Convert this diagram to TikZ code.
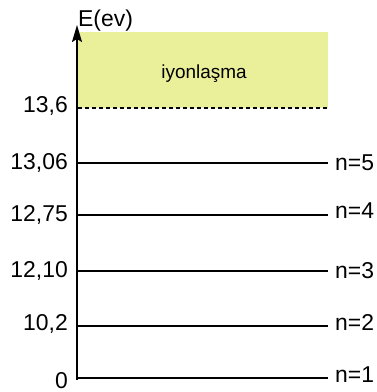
\documentclass[tikz,border=0pt]{standalone}
\usepackage{fontspec}
\setmainfont{Liberation Sans}
\usetikzlibrary{arrows.meta}
\definecolor{ionyellow}{RGB}{234,240,153}
\begin{document}
\begin{tikzpicture}[x=1bp,y=-1bp,
  level/.style={line width=1.3bp},
  lab/.style={font=\fontsize{23}{25}\selectfont, inner sep=0pt},
  ylab/.style={lab, anchor=east},
  nlab/.style={lab, anchor=west}]
\useasboundingbox (0,0) rectangle (377,392);
\fill[ionyellow] (78,32) rectangle (328,108);
\node[font=\fontsize{19}{21}\selectfont, inner sep=0pt] (ion) at (204,74) {iyonlaşma};
\draw[line width=1.3bp, dash pattern=on 4bp off 3bp] (78,108) -- (328,108);
\coordinate (ax0) at (77,380);
\coordinate (ax1) at (77,25);
\draw[line width=1.6bp, -{Stealth[length=17bp,width=10bp,inset=3bp]}] (ax0) -- (ax1);
\node[lab, anchor=south west] (E) at (78,31) {E(ev)};
% levels
\coordinate (l5a) at (77,163); \coordinate (l5b) at (328,163);
\coordinate (l4a) at (77,215); \coordinate (l4b) at (328,215);
\coordinate (l3a) at (77,271); \coordinate (l3b) at (328,271);
\coordinate (l2a) at (77,326); \coordinate (l2b) at (328,326);
\coordinate (l1a) at (77,378); \coordinate (l1b) at (328,378);
\foreach \n in {1,...,5} {\draw[level] (l\n a) -- (l\n b);}
\node[nlab] (n5) at (335,163) {n=5};
\node[nlab] (n4) at (335,211) {n=4};
\node[nlab] (n3) at (335,271) {n=3};
\node[nlab] (n2) at (335,322) {n=2};
\node[nlab] (n1) at (335,375) {n=1};
\node[ylab] (v6) at (68,106) {13,6};
\node[ylab] (v5) at (68,163) {13,06};
\node[ylab] (v4) at (68,215) {12,75};
\node[ylab] (v3) at (68,271) {12,10};
\node[ylab] (v2) at (68,324) {10,2};
\node[ylab] (v1) at (68,381) {0};
\end{tikzpicture}
\end{document}
